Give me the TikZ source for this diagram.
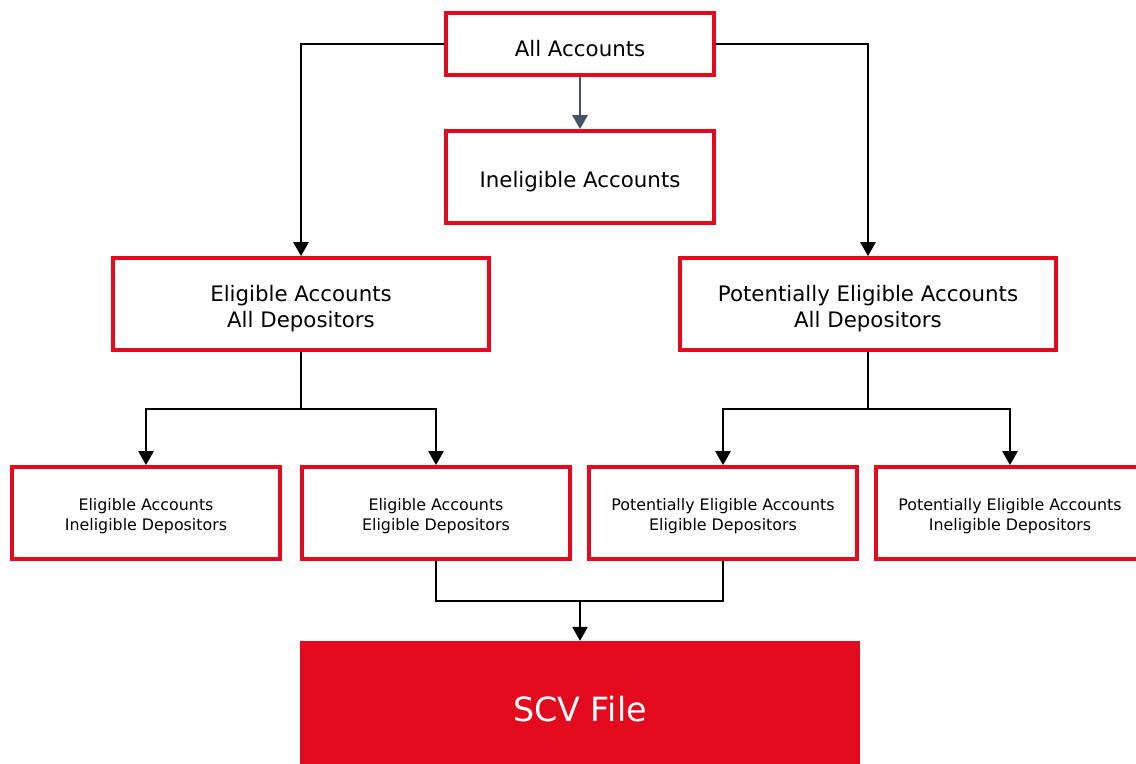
\documentclass[tikz,border=0pt]{standalone}
\usepackage{fontspec}
\setmainfont{DejaVu Sans}
\usetikzlibrary{arrows.meta,positioning}
\definecolor{scvred}{HTML}{E30A1D}
\definecolor{slate}{HTML}{44546A}
\newcommand{\lift}{\rule{0pt}{1.18em}}
\tikzset{
	box/.style={draw=scvred,line width=2.9pt,rectangle,align=center,inner sep=0pt,minimum width=201pt,minimum height=69pt},
	bigbox/.style={box,minimum width=282pt,font=\fontsize{16}{19}\selectfont},
	smallbox/.style={box,font=\fontsize{11.9}{15}\selectfont},
	filebox/.style={rectangle,fill=scvred,text=white,inner sep=0pt,minimum width=420pt,minimum height=92pt,font=\fontsize{25}{30}\selectfont},
	link/.style={line width=1.2pt,-{Triangle[width=11.5pt,length=10.5pt]}},
	every new ->/.style={shorten >=0pt}
}
\begin{document}
\begin{tikzpicture}[x=0.75pt,y=-0.75pt]
			\useasboundingbox (0,0) rectangle (1136,764);
			\node[bigbox,minimum width=201pt,minimum height=46pt] (all) at (580,44) {\lift All Accounts};
			\node[bigbox,minimum width=201pt] (inel) at (580,177) {\lift Ineligible Accounts};
			\node[bigbox] (elig) at (301,304) {\lift Eligible Accounts\\All Depositors};
			\node[bigbox] (pot) at (868,304) {\lift Potentially Eligible Accounts\\All Depositors};
			\node[smallbox] (eaid) at (146,513) {\lift Eligible Accounts\\Ineligible Depositors};
			\node[smallbox] (eaed) at (436,513) {\lift Eligible Accounts\\Eligible Depositors};
			\node[smallbox] (paed) at (723,513) {\lift Potentially Eligible Accounts\\Eligible Depositors};
			\node[smallbox] (paid) at (1010,513) {\lift Potentially Eligible Accounts\\Ineligible Depositors};
			\node[filebox] (scv) at (580,702.5) {\lift SCV File};
			\coordinate (esplit) at (301,409);
			\coordinate (psplit) at (868,409);
			\coordinate (join) at (580,601);
			
			\draw[link] (all.west) -| (elig.north);
			\draw[link] (all.east) -| (pot.north);
			\draw[link,draw=slate,fill=slate,line width=1.7pt] (all.south) -- (inel.north);
			\draw[line width=1.2pt] (elig.south) -- (esplit);
			\draw[link] (esplit) -| (eaid.north);
			\draw[link] (esplit) -| (eaed.north);
			\draw[line width=1.2pt] (pot.south) -- (psplit);
			\draw[link] (psplit) -| (paed.north);
			\draw[link] (psplit) -| (paid.north);
			\draw[line width=1.2pt] (eaed.south) |- (join) -| (paed.south);
			\draw[link] (join) -- (scv.north);
		\end{tikzpicture}
\end{document}
